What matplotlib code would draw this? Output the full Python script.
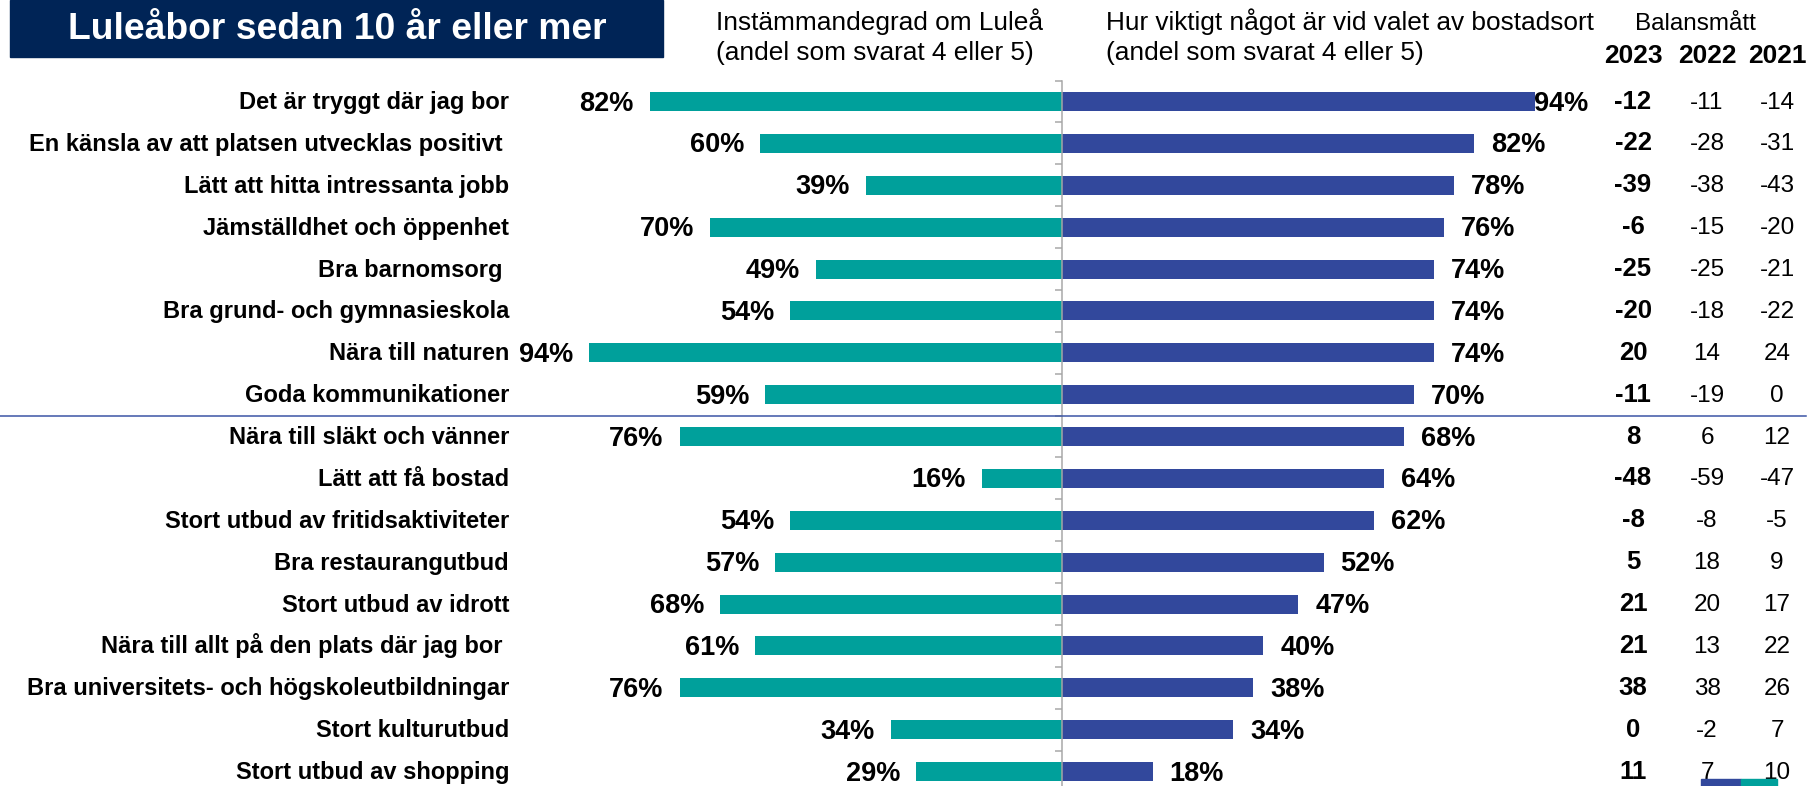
import numpy as np
import matplotlib
matplotlib.use("Agg")
import matplotlib.pyplot as plt
import matplotlib.transforms as mtransforms
from matplotlib.patches import Rectangle
from matplotlib.lines import Line2D

plt.rcParams['font.family'] = ['Liberation Sans', 'DejaVu Sans']

# data
categories = ["Det är tryggt där jag bor",
              "En känsla av att platsen utvecklas positivt ",
              "Lätt att hitta intressanta jobb",
              "Jämställdhet och öppenhet",
              "Bra barnomsorg ",
              "Bra grund- och gymnasieskola",
              "Nära till naturen",
              "Goda kommunikationer",
              "Nära till släkt och vänner",
              "Lätt att få bostad",
              "Stort utbud av fritidsaktiviteter",
              "Bra restaurangutbud",
              "Stort utbud av idrott",
              "Nära till allt på den plats där jag bor ",
              "Bra universitets- och högskoleutbildningar",
              "Stort kulturutbud",
              "Stort utbud av shopping"]
agree = [82, 60, 39, 70, 49, 54, 94, 59, 76, 16, 54, 57, 68, 61, 76, 34, 29]
important = [94, 82, 78, 76, 74, 74, 74, 70, 68, 64, 62, 52, 47, 40, 38, 34, 18]
bal_2023 = [-12, -22, -39, -6, -25, -20, 20, -11, 8, -48, -8, 5, 21, 21, 38, 0, 11]
bal_2022 = [-11, -28, -38, -15, -25, -18, 14, -19, 6, -59, -8, 18, 20, 13, 38, -2, 7]
bal_2021 = [-14, -31, -43, -20, -21, -22, 24, 0, 12, -47, -5, 9, 17, 22, 26, 7, 10]
years = ["2023", "2022", "2021"]

title = "Luleåbor sedan 10 år eller mer"
head_left = ["Instämmandegrad om Luleå", "(andel som svarat 4 eller 5)"]
head_right = ["Hur viktigt något är vid valet av bostadsort", "(andel som svarat 4 eller 5)"]

teal = "#00A09B"
blue = "#32489C"
navy = "#002456"
grey = "#A6A6A6"

W, H = 1810, 786
PT = 0.72  # px -> pt at dpi 100
fig = plt.figure(figsize=(W / 100, H / 100), dpi=100)

center = 1062
pxp = 5.03
ax_left, ax_right = 509, 1586
row_top = 80.6
row_step = 41.875
n = len(categories)

ax = fig.add_axes([ax_left / W, 0, (ax_right - ax_left) / W, 1 - row_top / H])
ax.set_xlim((ax_left - center) / pxp, (ax_right - center) / pxp)
ax.set_ylim(-0.5 + (H - row_top) / row_step, -0.5)

y = np.arange(n)
ax.barh(y, [-v for v in agree], height=0.455, color=teal, zorder=2)
ax.barh(y, important, height=0.455, color=blue, zorder=2)

for s in ['top', 'right', 'bottom']:
    ax.spines[s].set_visible(False)
ax.spines['left'].set_position(('data', 0))
ax.spines['left'].set_color(grey)
ax.spines['left'].set_linewidth(1.5 * PT)
ax.spines['left'].set_zorder(3)
ax.set_xticks([])
ax.set_yticks(np.arange(-0.5, n - 0.5, 1))
ax.tick_params(axis='y', direction='out', length=7 * PT, width=1.5 * PT,
               color=grey, labelleft=False)

# category labels
for i, c in enumerate(categories):
    ax.annotate(c, xy=(0, i), xycoords=('axes fraction', 'data'),
                xytext=(0, -7.5 * PT), textcoords='offset points',
                ha='right', va='baseline', fontsize=17, fontweight='bold')

# value labels
for i, v in enumerate(agree):
    ax.annotate(f"{v}%", xy=(-v, i), xytext=(-16 * PT, -9 * PT),
                textcoords='offset points', ha='right', va='baseline',
                fontsize=19.5, fontweight='bold')
for i, v in enumerate(important):
    ax.annotate(f"{v}%", xy=(min(v, 90.5), i), xytext=(17 * PT, -9 * PT),
                textcoords='offset points', ha='left', va='baseline',
                fontsize=19.5, fontweight='bold', zorder=4)

# balance table
col_x = [1633, 1707, 1777]
for j, col in enumerate([bal_2023, bal_2022, bal_2021]):
    bold = j == 0
    for i, v in enumerate(col):
        ax.annotate(str(v), xy=(col_x[j] / W, i), xycoords=('figure fraction', 'data'),
                    xytext=(0, -7 * PT), textcoords='offset points',
                    ha='center', va='baseline', fontsize=18.5 if bold else 17.5,
                    fontweight='bold' if bold else 'normal', annotation_clip=False)
    fig.text(col_x[j] / W, 1 - 63 / H, years[j], ha='center', va='baseline',
             fontsize=19, fontweight='bold')
fig.text(1635 / W, 1 - 30 / H, "Balansmått", va='baseline', fontsize=17.5)

# headers
for k, line in enumerate(head_left):
    fig.text(716 / W, 1 - (30 + 30 * k) / H, line, va='baseline', fontsize=18.9)
for k, line in enumerate(head_right):
    fig.text(1106 / W, 1 - (30 + 30 * k) / H, line, va='baseline', fontsize=18.9)

# title box
fig.add_artist(Rectangle((10 / W, 1 - 57 / H), 653 / W, 57 / H,
                         transform=fig.transFigure, color=navy, zorder=1))
fig.text(68 / W, 1 - 39 / H, title, color='white', fontsize=26.8,
         fontweight='bold', va='baseline', zorder=2)

# separator line between the two groups
sep = Line2D([0, 1806 / W], [7.5, 7.5], color="#3C55A5", lw=1.1,
             transform=mtransforms.blended_transform_factory(fig.transFigure, ax.transData))
fig.add_artist(sep)

# cropped legend remnant at bottom right
fig.add_artist(Rectangle((1701 / W, 0), 40 / W, 7 / H, transform=fig.transFigure,
                         color=blue, zorder=5))
fig.add_artist(Rectangle((1741 / W, 0), 36 / W, 7 / H, transform=fig.transFigure,
                         color=teal, zorder=5))

fig.savefig("out.png", dpi=100)
